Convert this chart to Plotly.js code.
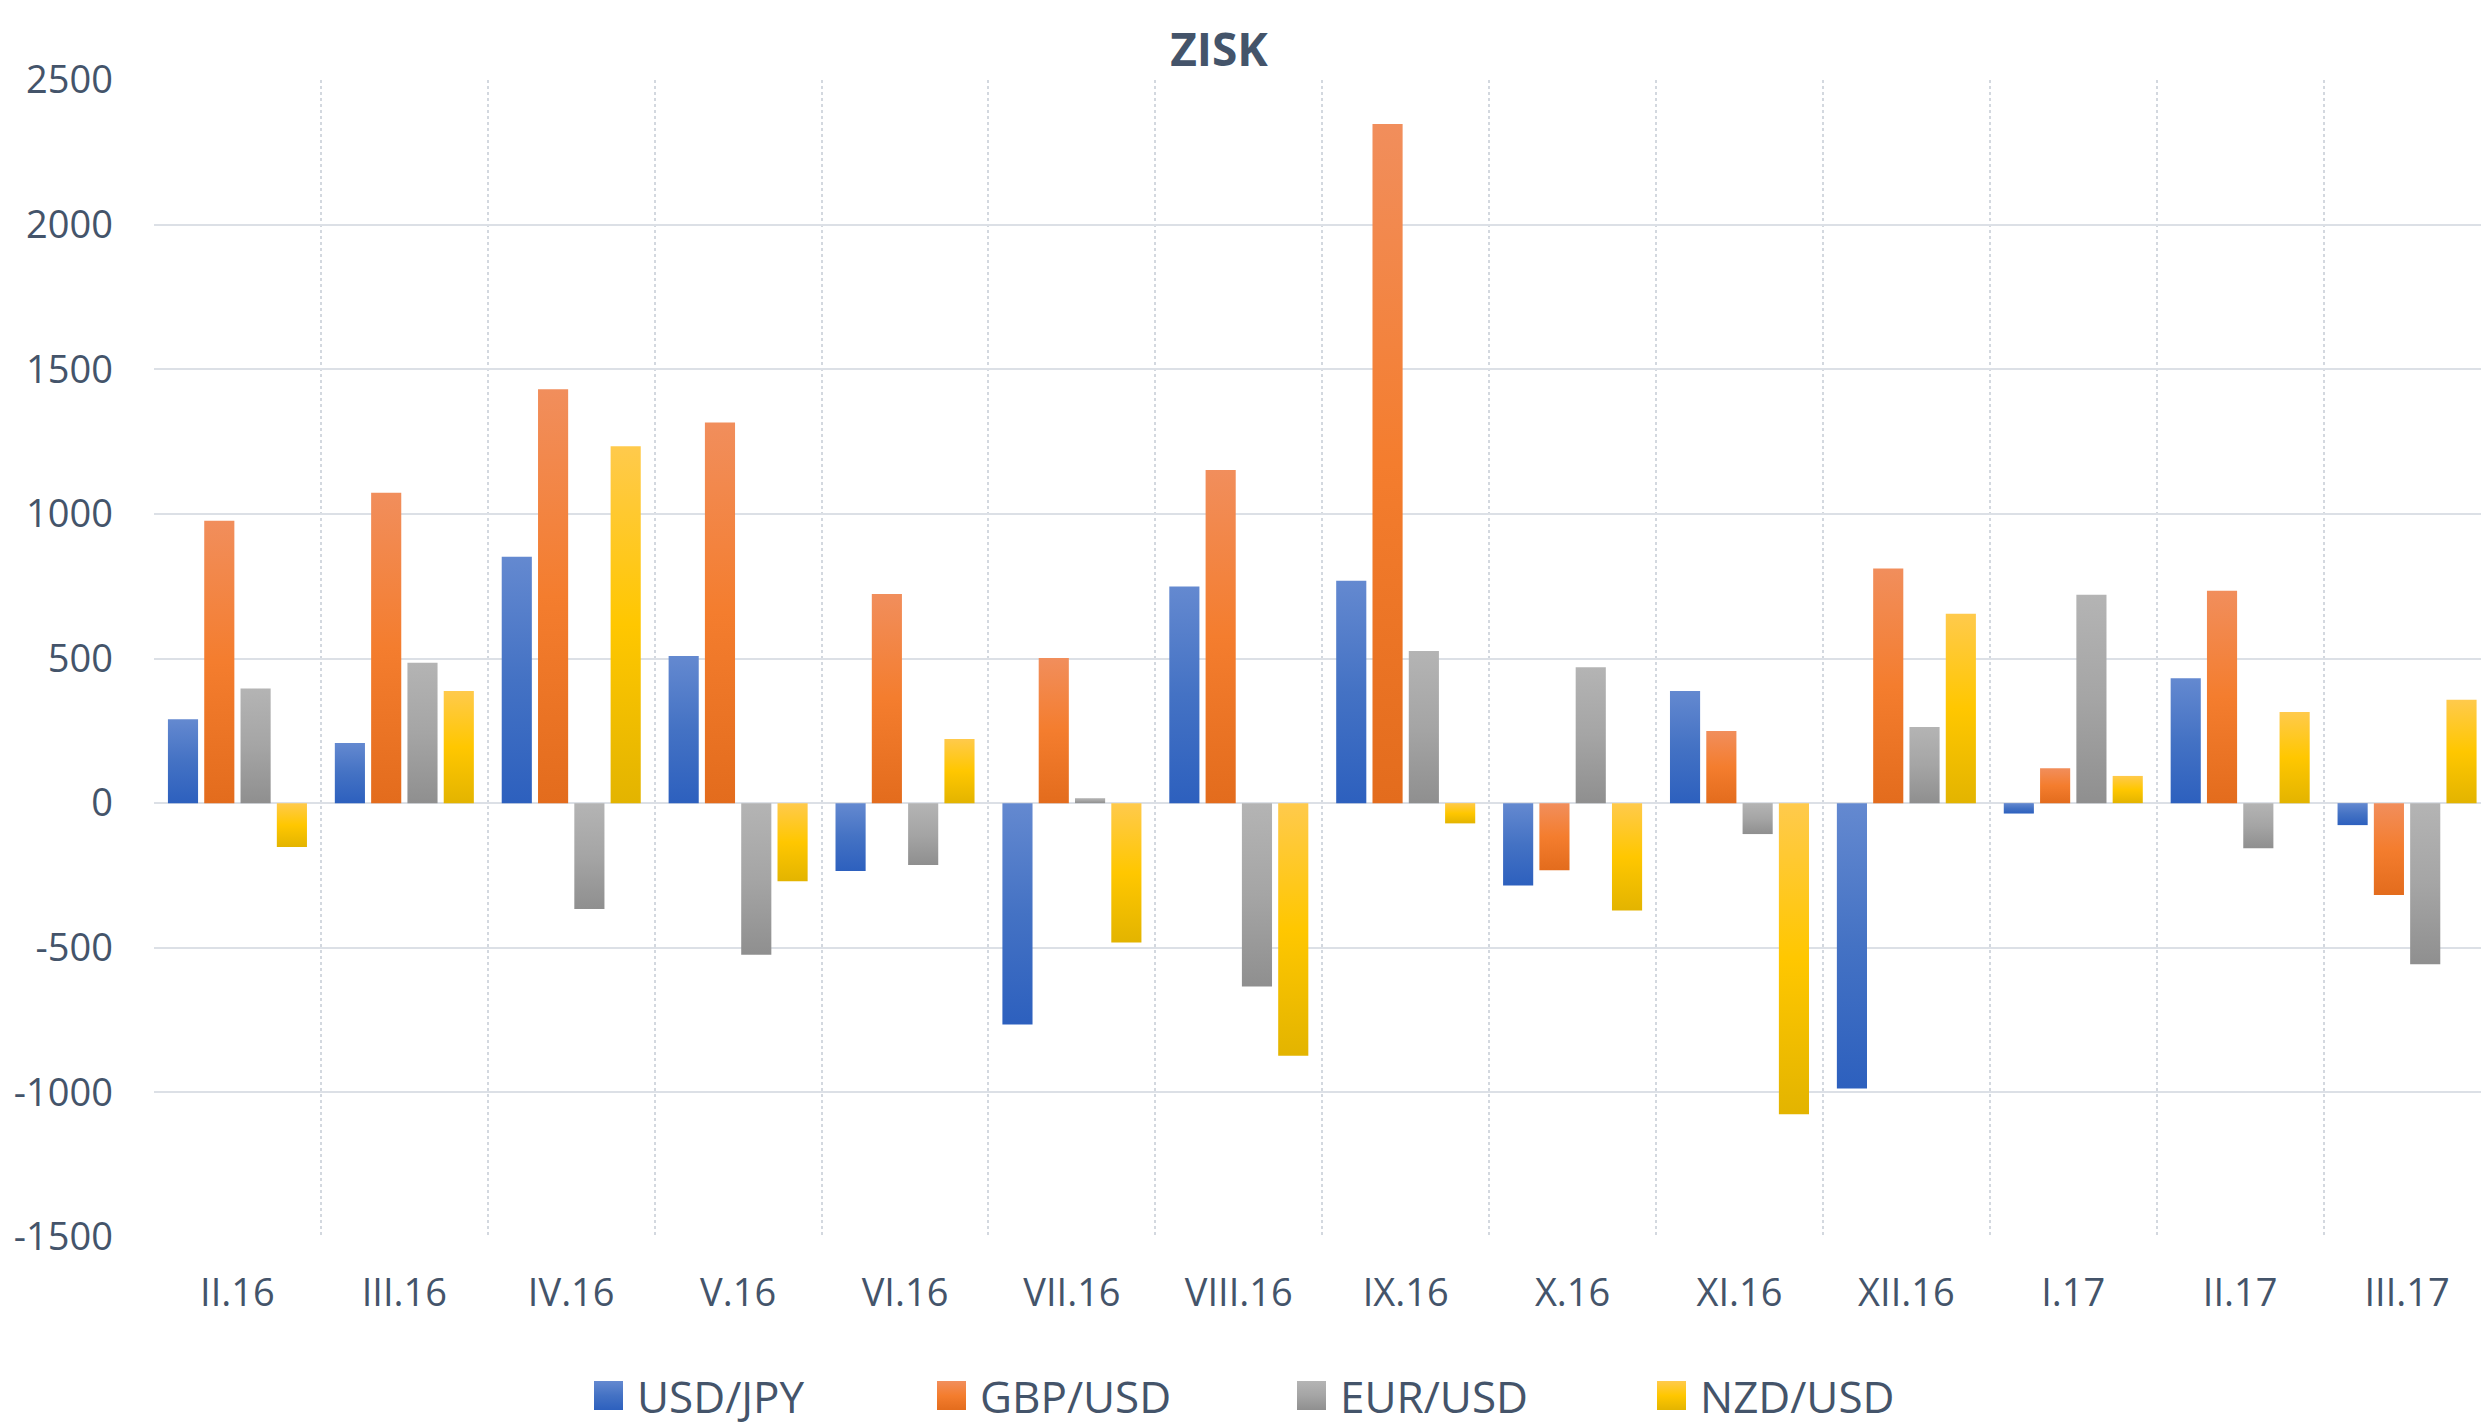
<!DOCTYPE html>
<html>
<head>
<meta charset="utf-8">
<script src="https://cdn.plot.ly/plotly-3.0.1.min.js"></script>
<style>
  html, body { margin: 0; padding: 0; background: #ffffff; }
  #chart { width: 2481px; height: 1426px; }
</style>
</head>
<body>
<div id="chart"></div>
<script>
// ---- data ----
const months = ["II.16", "III.16", "IV.16", "V.16", "VI.16", "VII.16", "VIII.16",
                "IX.16", "X.16", "XI.16", "XII.16", "I.17", "II.17", "III.17"];
const usdJpy = [290, 208, 852, 509, -235, -765, 749, 769, -285, 388, -987, -36, 432, -76];
const gbpUsd = [976, 1073, 1431, 1316, 723, 502, 1152, 2348, -232, 249, 811, 121, 734, -318];
const eurUsd = [396, 485, -366, -524, -214, 17, -634, 526, 470, -107, 263, 720, -156, -557];
const nzdUsd = [-152, 388, 1234, -270, 222, -482, -873, -70, -371, -1076, 655, 94, 315, 357];
const seriesNames = ["USD/JPY", "GBP/USD", "EUR/USD", "NZD/USD"];
const yTicks = [-1500, -1000, -500, 0, 500, 1000, 1500, 2000, 2500];

// ---- styles ----
const baseColors = ["#4472C4", "#ED7D31", "#A5A5A5", "#FFC000"];
const gradStops = [
  ["#6489D0", "#4472C4", "#2D60BE"],
  ["#F18E5C", "#F47D2E", "#E36C1D"],
  ["#B4B4B4", "#A5A5A5", "#8F8F8F"],
  ["#FFCA4C", "#FFC700", "#E3B400"]
];
const legendWidths = [281, 298, 298, 298];
const textColor = "#44546A";
const gridColor = "#DCE0E6";
const vGridColor = "#D3D8DF";
const fontFam = "'Open Sans', 'Noto Sans', sans-serif";

const allSeries = [usdJpy, gbpUsd, eurUsd, nzdUsd];
const traces = allSeries.map((vals, i) => ({
  type: "bar",
  name: seriesNames[i],
  x: months,
  y: vals,
  legendwidth: legendWidths[i],
  marker: { color: baseColors[i], line: { width: 0 } },
  hoverinfo: "skip"
}));

const layout = {
  width: 2481,
  height: 1426,
  paper_bgcolor: "#ffffff",
  plot_bgcolor: "#ffffff",
  margin: { l: 154, r: 0, t: 80, b: 189, pad: 0 },
  barmode: "group",
  bargap: 0.13,
  bargroupgap: 0.17,
  font: { family: fontFam, color: textColor, size: 38 },
  title: {
    text: "ZISK",
    font: { family: fontFam, size: 46, color: textColor, weight: 700 },
    xref: "container", x: 1219 / 2481, xanchor: "center",
    yref: "container", y: 1 - 50 / 1426, yanchor: "middle"
  },
  xaxis: {
    type: "category",
    range: [-0.5, 13.443],
    tickson: "boundaries",
    showgrid: true,
    gridcolor: vGridColor,
    gridwidth: 2,
    griddash: "dot",
    ticks: "",
    showline: false,
    zeroline: false,
    ticklabelstandoff: 30,
    tickfont: { family: fontFam, size: 38, color: textColor },
    fixedrange: true
  },
  yaxis: {
    range: [-1500, 2500],
    tickvals: yTicks,
    ticktext: yTicks.map(String),
    showgrid: true,
    gridcolor: gridColor,
    gridwidth: 2,
    zeroline: true,
    zerolinecolor: gridColor,
    zerolinewidth: 2,
    ticks: "",
    showline: false,
    ticklabelstandoff: 40,
    tickfont: { family: fontFam, size: 38, color: textColor },
    fixedrange: true
  },
  showlegend: true,
  legend: {
    orientation: "h",
    xref: "container", x: 580 / 2481, xanchor: "left",
    yref: "container", y: 1 - 1396 / 1426, yanchor: "middle",
    font: { family: fontFam, size: 44, color: textColor },
    itemwidth: 47,
    traceorder: "normal",
    bgcolor: "rgba(0,0,0,0)",
    borderwidth: 0
  }
};

Plotly.newPlot("chart", traces, layout, { displayModeBar: false, staticPlot: true }).then(gd => {
  const svgNS = "http://www.w3.org/2000/svg";
  const mainSvg = gd.querySelector("svg.main-svg");
  let defs = mainSvg.querySelector("defs");
  if (!defs) { defs = document.createElementNS(svgNS, "defs"); mainSvg.insertBefore(defs, mainSvg.firstChild); }
  gradStops.forEach((stops, i) => {
    const lg = document.createElementNS(svgNS, "linearGradient");
    lg.setAttribute("id", "barGrad" + i);
    lg.setAttribute("x1", "0"); lg.setAttribute("y1", "0");
    lg.setAttribute("x2", "0"); lg.setAttribute("y2", "1");
    [0, 0.5, 1].forEach((off, k) => {
      const st = document.createElementNS(svgNS, "stop");
      st.setAttribute("offset", off);
      st.setAttribute("stop-color", stops[k]);
      lg.appendChild(st);
    });
    defs.appendChild(lg);
  });
  // bars
  gd.querySelectorAll(".barlayer .trace.bars").forEach((tr, i) => {
    tr.querySelectorAll("path").forEach(p => { p.style.fill = "url(#barGrad" + i + ")"; });
  });
  // legend symbols: larger squares with gradient
  gd.querySelectorAll(".legend .traces").forEach((tr, i) => {
    tr.querySelectorAll(".legendpoints path").forEach(p => {
      p.setAttribute("d", "M14.5,14.5H-14.5V-14.5H14.5Z");
      p.style.fill = "url(#barGrad" + i + ")";
      p.style.stroke = "none";
    });
  });
});
</script>
</body>
</html>
